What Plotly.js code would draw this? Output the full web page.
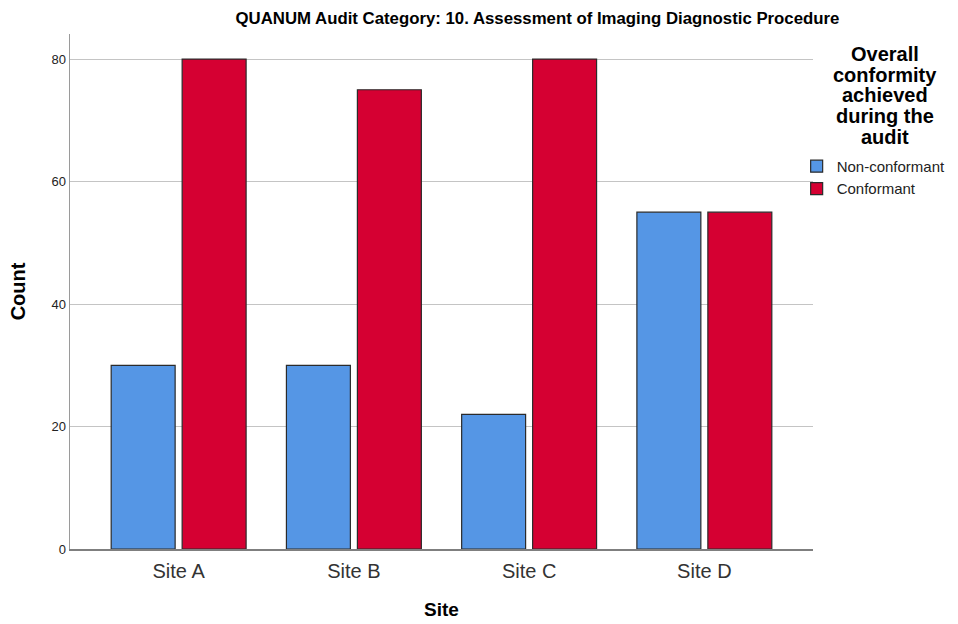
<!DOCTYPE html>
<html>
<head>
<meta charset="utf-8">
<script src="https://cdn.plot.ly/plotly-3.0.1.min.js"></script>
<style>html,body{margin:0;padding:0;background:#fff;}#chart{width:958px;height:624px;}</style>
</head>
<body>
<div id="chart"></div>
<script>
const sites = ["Site A", "Site B", "Site C", "Site D"];
const nonConformant = [30, 30, 22, 55];
const conformant = [80, 75, 80, 55];
const seriesNames = ["Non-conformant", "Conformant"];
const yTicks = [0, 20, 40, 60, 80];
const legendTitleLines = ["Overall", "conformity", "achieved", "during the", "audit"];

const outline = {color: "#2b2b2b", width: 1.2};
const traces = [
  {type: "bar", name: seriesNames[0], x: sites, y: nonConformant,
   width: 0.365, offset: -0.385,
   marker: {color: "#5596e5", line: outline}, hoverinfo: "x+y+name"},
  {type: "bar", name: seriesNames[1], x: sites, y: conformant,
   width: 0.365, offset: 0.02,
   marker: {color: "#d50032", line: outline}, hoverinfo: "x+y+name"}
];

const plotH = 624 - 34 - 75;
const annots = legendTitleLines.map((t, i) => ({
  text: "<b>" + t + "</b>",
  xref: "paper", yref: "paper", x: 1.0975, y: 1 + (34 - 54 - i * 20.7) / plotH,
  xanchor: "center", yanchor: "middle",
  showarrow: false, align: "center", font: {size: 20, color: "#000"}
}));

const layout = {
  width: 958, height: 624,
  margin: {l: 70, r: 145, t: 34, b: 75, autoexpand: false},
  paper_bgcolor: "#ffffff", plot_bgcolor: "#ffffff",
  font: {family: "Liberation Sans, Arial, sans-serif", color: "#000"},
  title: {text: "<b>QUANUM Audit Category: 10. Assessment of Imaging Diagnostic Procedure</b>",
          font: {size: 16.8, color: "#000"}, x: 0.561, xanchor: "center", y: 0.971, yanchor: "middle"},
  barmode: "group",
  showlegend: true,
  xaxis: {
    type: "category", range: [-0.62, 3.62],
    showline: true, linecolor: "#7f7f7f", linewidth: 1.5,
    showgrid: false, ticks: "", zeroline: false,
    tickfont: {size: 20, color: "#333"}, ticklabelstandoff: 3,
    title: {text: "<b>Site</b>", font: {size: 19, color: "#000"}, standoff: 22}
  },
  yaxis: {
    range: [0, 84.1], tickvals: yTicks, ticktext: yTicks.map(String),
    showline: true, linecolor: "#9a9a9a", linewidth: 1.5,
    showgrid: true, gridcolor: "#c4c4c4", gridwidth: 1,
    zeroline: false, ticks: "",
    tickfont: {size: 13, color: "#222"},
    title: {text: "<b>Count</b>", font: {size: 20, color: "#000"}, standoff: 20}
  },
  legend: {
    x: 0.978, xanchor: "left", y: 0.775, yanchor: "top",
    font: {size: 15, color: "#222"},
    bgcolor: "rgba(0,0,0,0)", borderwidth: 0,
    itemwidth: 30, tracegroupgap: 0
  },
  annotations: annots
};

Plotly.newPlot("chart", traces, layout, {displayModeBar: false, staticPlot: true});
</script>
</body>
</html>
